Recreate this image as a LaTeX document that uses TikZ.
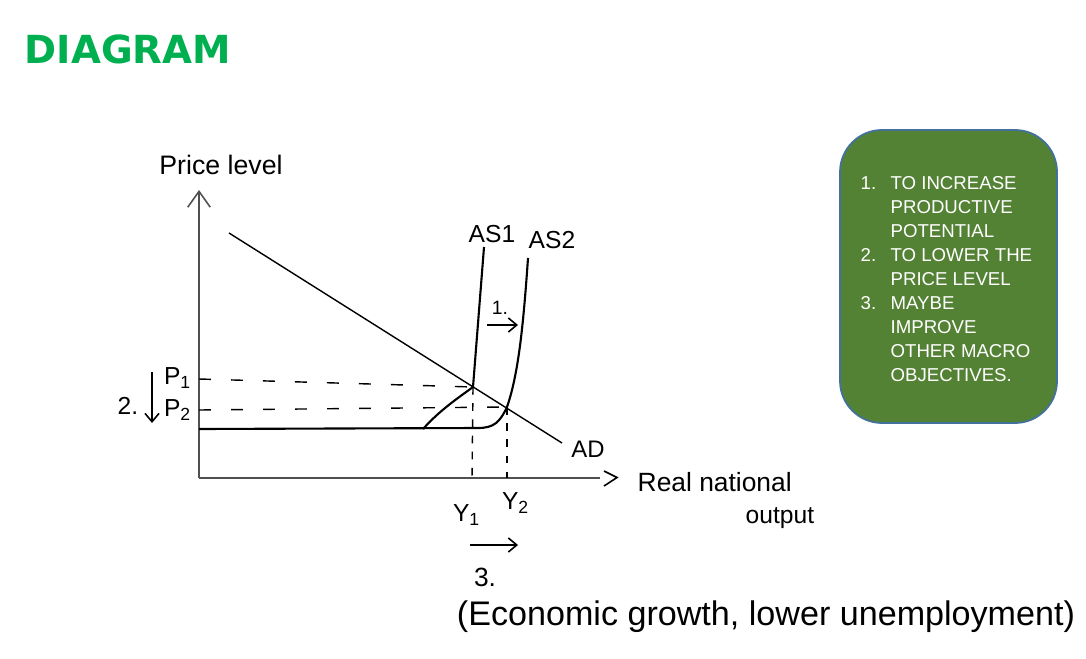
\documentclass[tikz,border=0pt]{standalone}
\usepackage{fontspec}
\setmainfont{Liberation Sans}
\newfontfamily\titlefont{DejaVu Sans}
\usetikzlibrary{arrows.meta}
\definecolor{titlegreen}{RGB}{0,176,80}
\definecolor{boxgreen}{RGB}{84,130,53}
\definecolor{boxedge}{RGB}{65,113,156}
\definecolor{axisgray}{RGB}{80,80,80}
\tikzset{
  axisline/.style={draw=axisgray, line width=0.45pt},
  curve/.style={draw=black, line width=0.6pt},
  adline/.style={draw=black, line width=0.4pt},
  hguide/.style={draw=black, line width=0.4pt, dash pattern=on 3.4pt off 5.7pt},
  vguide/.style={draw=black, line width=0.4pt, dash pattern=on 2.2pt off 2.4pt},
  hand/.style={inner sep=0pt, font=\fontsize{7.5pt}{9pt}\selectfont},
  shiftarrow/.style={draw=black, line width=0.45pt, -{Straight Barb[length=2.4pt,width=4pt]}},
}
\begin{document}
\begin{tikzpicture}[x=0.01cm, y=-0.01cm]
\useasboundingbox (0,0) rectangle (1086,658);
% title
\node[anchor=west, inner sep=0pt, text=titlegreen, font=\titlefont\bfseries\fontsize{11pt}{13pt}\selectfont] (title) at (24,49) {DIAGRAM};
% axes
\coordinate (O) at (199,478);
\coordinate (ytop) at (199,190);
\coordinate (xend) at (600,478);
\draw[axisline, -{Straight Barb[length=4.5pt,width=6.4pt]}] (O) -- (ytop);
\draw[axisline] (O) -- (xend);
\draw[line width=0.45pt] (604,471) -- (617,477.5) -- (604,486);
\node[hand, font=\fontsize{7.6pt}{9pt}\selectfont] (ylab) at (221,165) {Price level};
\node[hand, anchor=west] (xlab1) at (637,482) {Real national};
\node[hand, anchor=west, font=\fontsize{7pt}{9pt}\selectfont] (xlab2) at (745,518) {output};
% AD
\coordinate (adtop) at (229,233);
\coordinate (adbot) at (562,443);
\draw[adline] (adtop) -- (adbot);
\node[hand, font=\fontsize{6.8pt}{8pt}\selectfont] (ad) at (588,449) {AD};
% intersections
\coordinate (E1) at (473,387);
\coordinate (E2) at (507,407);
% AS1
\draw[curve] (484,247) -- (E1) .. controls (458,398) and (440,410) .. (423,429);
% AS2 with horizontal section
\draw[curve] (528,258) .. controls (523,330) and (518,375) .. (E2) .. controls (500,422) and (494,428) .. (478,428) -- (199,429);
\node[hand, font=\fontsize{7pt}{8pt}\selectfont] (as1) at (492,234) {AS1};
\node[hand, font=\fontsize{7pt}{8pt}\selectfont] (as2) at (552,240) {AS2};
% shift 1
\node[hand, font=\fontsize{5.5pt}{7pt}\selectfont] (n1) at (500,308) {1.};
\coordinate (s1a) at (487,325);
\coordinate (s1b) at (518,325);
\draw[shiftarrow] (s1a) -- (s1b);
% guides
\coordinate (p1axis) at (199,379);
\coordinate (p2axis) at (199,410);
\coordinate (y1axis) at (472,478);
\coordinate (y2axis) at (507,478);
\draw[hguide] (p1axis) -- (E1);
\draw[hguide] (p2axis) -- (E2);
\draw[vguide] (E1) -- (y1axis);
\draw[vguide] (E2) -- (y2axis);
% price labels
\node[hand, font=\fontsize{7pt}{8pt}\selectfont] (p1) at (178,378) {P\textsubscript{1}};
\node[hand, font=\fontsize{7pt}{8pt}\selectfont] (p2) at (178,410) {P\textsubscript{2}};
\node[hand, font=\fontsize{7pt}{8pt}\selectfont] (n2) at (128,406) {2.};
\coordinate (dpa) at (152,372);
\coordinate (dpb) at (152,423);
\draw[shiftarrow] (dpa) -- (dpb);
% output labels
\node[hand, font=\fontsize{7pt}{8pt}\selectfont] (y1) at (467,515) {Y\textsubscript{1}};
\node[hand, font=\fontsize{7pt}{8pt}\selectfont] (y2) at (516,503) {Y\textsubscript{2}};
\coordinate (ya) at (470,545);
\coordinate (yb) at (518,545);
\draw[shiftarrow] (ya) -- (yb);
\node[hand, font=\fontsize{7.5pt}{8pt}\selectfont] (n3) at (485,577) {3.};
\node[hand, font=\fontsize{9.7pt}{11pt}\selectfont] (growth) at (766,617) {(Economic growth, lower unemployment)};
% box
\draw[fill=boxgreen, draw=boxedge, line width=0.5pt, rounded corners=0.42cm] (840,130) rectangle (1057,423);
\node[anchor=north west, inner sep=0pt, text=white, align=left, font=\fontsize{5.3pt}{6.83pt}\selectfont] (objectives) at (860,176) {%
\makebox[8.5pt][l]{1.}TO INCREASE\\
\hspace*{8.5pt}PRODUCTIVE\\
\hspace*{8.5pt}POTENTIAL\\
\makebox[8.5pt][l]{2.}TO LOWER THE\\
\hspace*{8.5pt}PRICE LEVEL\\
\makebox[8.5pt][l]{3.}MAYBE\\
\hspace*{8.5pt}IMPROVE\\
\hspace*{8.5pt}OTHER MACRO\\
\hspace*{8.5pt}OBJECTIVES.};
\end{tikzpicture}
\end{document}
